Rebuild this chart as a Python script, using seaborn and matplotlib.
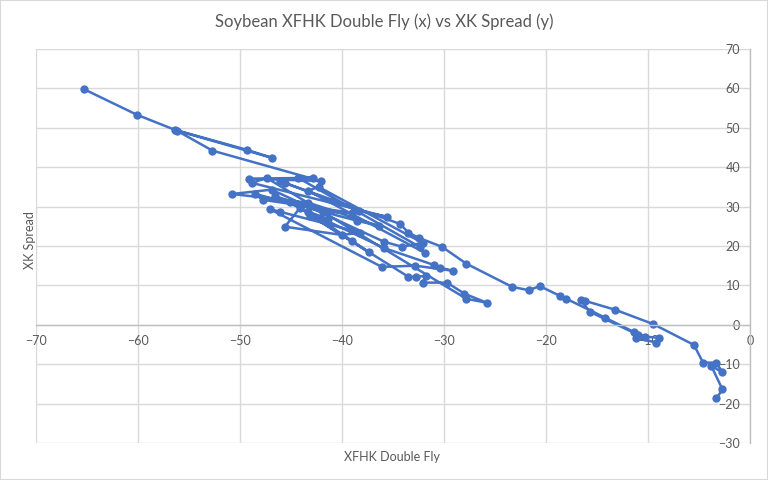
import matplotlib
matplotlib.use("Agg")
import matplotlib.pyplot as plt
import seaborn as sns
import pandas as pd

# XFHK double fly (x) and XK spread (y), in the order the line joins them
double_fly = [
    -65.3, -60.1, -56.4, -49.3, -46.9, -56.2, -52.7, -42.1, -49.1, -42.8,
    -44.3, -32.4, -31.9, -43.3, -42.3, -32.1, -34.1, -35.9, -46.9, -50.8,
    -43.3, -36.4, -38.5, -48.5, -47.7, -39.0, -41.9, -46.6, -35.9, -31.0,
    -30.4, -29.1, -32.8, -36.1, -47.1, -46.1, -38.2, -40.0, -45.6, -44.1,
    -45.1, -37.4, -39.0, -43.3, -41.4, -43.1, -33.5, -32.7, -31.8, -32.1,
    -29.7, -28.0, -25.8, -27.8, -47.4, -48.8, -35.6, -38.3, -46.1, -45.6,
    -34.3, -33.5, -32.5, -30.2, -27.8, -23.3, -21.7, -20.6, -18.6, -18.0,
    -14.2, -11.4, -10.3, -8.9, -9.2, -11.2, -11.0, -15.7, -16.6, -16.2,
    -13.2, -9.5, -5.5, -4.6, -3.3, -2.7, -3.8, -2.7, -3.3,
]
xk_spread = [
    59.8, 53.3, 49.5, 44.4, 42.4, 49.3, 44.2, 36.5, 37.1, 37.3,
    37.3, 19.8, 18.3, 34.0, 35.0, 20.8, 19.8, 21.1, 34.3, 33.2,
    31.0, 25.1, 26.4, 33.2, 31.7, 28.4, 28.7, 32.7, 19.5, 15.2,
    14.5, 13.7, 15.0, 14.7, 29.4, 28.7, 23.4, 22.8, 24.9, 29.7,
    31.2, 18.5, 21.3, 28.7, 26.9, 27.7, 12.2, 12.2, 12.4, 10.7,
    10.7, 7.9, 5.6, 6.6, 37.3, 36.0, 27.4, 28.9, 36.5, 36.0,
    25.6, 23.4, 22.1, 19.8, 15.5, 9.6, 8.8, 9.8, 7.3, 6.6,
    1.8, -1.8, -3.0, -3.3, -4.5, -3.3, -2.5, 3.3, 6.3, 6.1,
    3.8, 0.2, -5.1, -9.6, -9.6, -12.1, -10.4, -16.4, -18.7,
]

x_ticks = list(range(-70, 1, 10))
y_ticks = list(range(-30, 71, 10))

df = pd.DataFrame({"fly": double_fly, "spread": xk_spread})

sns.set_theme(style="white")
plt.rcParams["font.family"] = ["Lato", "DejaVu Sans"]

fig = plt.figure(figsize=(7.68, 4.8), dpi=100)
# plot area: x=-70 at px 36, x=0 at px 750; y=70 at px 49, y=-30 at px 443
ax = fig.add_axes([36 / 768, 1 - 443 / 480, 714 / 768, 394 / 480])

blue = "#4472C4"
grey_txt = "#595959"

sns.lineplot(data=df, x="fly", y="spread", sort=False, estimator=None,
             color=blue, linewidth=1.8, marker="o", markersize=6,
             markeredgewidth=0, ax=ax)

ax.set_xlim(-70, 0)
ax.set_ylim(-30, 70)
ax.set_xticks(x_ticks)
ax.set_yticks(y_ticks)
ax.grid(True, color="#d9d9d9", linewidth=1)
ax.set_axisbelow(True)

# axes cross at (0, 0): x labels under the zero line, y labels left of x=0
ax.spines["top"].set_visible(False)
ax.spines["right"].set_visible(False)
ax.spines["bottom"].set_position(("data", 0))
ax.spines["left"].set_position(("data", 0))
for s in ["bottom", "left"]:
    ax.spines[s].set_color("#bfbfbf")
    ax.spines[s].set_linewidth(1)
ax.tick_params(axis="both", length=0, labelsize=9, labelcolor=grey_txt)
ax.tick_params(axis="x", pad=7)
ax.tick_params(axis="y", pad=7)
ax.set_xlabel("")
ax.set_ylabel("")

fig.text(384 / 768, 1 - 22 / 480, "Soybean XFHK Double Fly (x) vs XK Spread (y)",
         ha="center", va="center", fontsize=12, color=grey_txt)
fig.text(392 / 768, 1 - 457 / 480, "XFHK Double Fly", ha="center", va="center",
         fontsize=9, color=grey_txt)
fig.text(30 / 768, 1 - 240 / 480, "XK Spread", ha="center", va="center",
         rotation=90, fontsize=9, color=grey_txt)

fig.patches.append(plt.Rectangle((0, 0), 1, 1, transform=fig.transFigure,
                                 fill=False, edgecolor="#d9d9d9", linewidth=1.5))

fig.savefig("out.png", dpi=100)
